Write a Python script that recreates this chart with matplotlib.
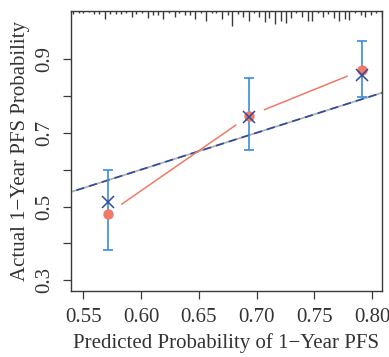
import numpy as np
import matplotlib
matplotlib.use('Agg')
import matplotlib.pyplot as plt
import matplotlib.transforms as mtransforms

# calibration groups
pred_x   = [0.5716, 0.6936, 0.7914]
obs_y    = [0.481, 0.746, 0.870]
bc_y     = [0.513, 0.742, 0.857]
ci_lo    = [0.382, 0.652, 0.798]
ci_hi    = [0.599, 0.848, 0.950]

# rug of predicted probabilities along the top (x, relative height)
rug_x = [0.541, 0.546, 0.550, 0.555, 0.559, 0.564, 0.569, 0.573, 0.578, 0.583,
         0.587, 0.592, 0.596, 0.601, 0.606, 0.610, 0.615, 0.619, 0.624, 0.629,
         0.633, 0.638, 0.642, 0.647, 0.652, 0.656, 0.661, 0.665, 0.670, 0.675,
         0.679, 0.684, 0.688, 0.693, 0.698, 0.702, 0.707, 0.711, 0.716, 0.721,
         0.725, 0.730, 0.734, 0.739, 0.744, 0.748, 0.753, 0.757, 0.762, 0.767,
         0.771, 0.776, 0.780, 0.785, 0.790, 0.794, 0.799, 0.803, 0.808]
rug_n = [3, 2, 2, 1, 3, 3, 7, 3, 3, 3, 2, 5, 3, 2, 6,
         4, 4, 7, 2, 5, 2, 4, 4, 7, 2, 9, 2, 2, 7, 4,
         14, 3, 5, 9, 2, 5, 10, 6, 12, 9, 11, 6, 2, 5, 9,
         9, 2, 5, 3, 6, 9, 7, 8, 2, 4, 5, 4, 2, 5]

x_ticks = [0.55, 0.60, 0.65, 0.70, 0.75, 0.80]
y_ticks = [0.3, 0.4, 0.5, 0.6, 0.7, 0.8, 0.9]
y_labels = ['0.3', '', '0.5', '', '0.7', '', '0.9']

RED   = '#F07A66'
NAVY  = '#2E4A9E'
LBLUE = '#3A8DDA'
AXC   = '#3a3a3a'

plt.rcParams['font.family'] = ['Liberation Serif', 'DejaVu Serif']

#------------------------------------------------------------------------------
def gapped_segments(ax, xs, ys, gap_px):
  # R type="b": lines between points, cut short around each point
  pts = ax.transData.transform(np.column_stack([xs, ys]))
  inv = ax.transData.inverted()
  segs = []
  for p0, p1 in zip(pts[:-1], pts[1:]):
    d = p1 - p0
    u = d / np.hypot(*d)
    a = inv.transform(p0 + u * gap_px)
    b = inv.transform(p1 - u * gap_px)
    segs.append((a, b))
  return segs

#------------------------------------------------------------------------------
def main():
  fig = plt.figure(figsize=(3.89, 3.57), dpi=100)
  ax = fig.add_axes([0.1825, 0.185, 0.7995, 0.784])
  ax.set_xlim(0.5394, 0.8084)
  ax.set_ylim(0.271, 1.030)

  # ideal line
  lim = np.array([0.5, 0.85])
  ax.plot(lim, lim, color='#b0b0b0', lw=1.3, zorder=2)
  ax.plot(lim, lim, color=NAVY, lw=1.2, ls=(0, (5, 3)), zorder=3)

  # observed line with gaps
  for a, b in gapped_segments(ax, pred_x, obs_y, 16.5):
    ax.plot([a[0], b[0]], [a[1], b[1]], color=RED, lw=1.1, zorder=3)

  ax.errorbar(pred_x, bc_y, yerr=[np.subtract(bc_y, ci_lo), np.subtract(ci_hi, bc_y)],
              fmt='none', ecolor=LBLUE, elinewidth=1.2, capsize=3.5, capthick=1.2, zorder=4)
  ax.plot(pred_x, obs_y, 'o', color=RED, ms=7.5, mec='none', zorder=5)
  ax.plot(pred_x, bc_y, 'x', color=NAVY, ms=8, mew=1.1, zorder=6)

  # rug
  ax_h = ax.get_window_extent().height
  trans = mtransforms.blended_transform_factory(ax.transData, ax.transAxes)
  h = np.array(rug_n) * 1.1 / ax_h
  ax.vlines(rug_x, 1 - h, 1, color=AXC, lw=1.0, transform=trans, zorder=2)

  ax.set_xticks(x_ticks)
  ax.set_xticklabels(['{:.2f}'.format(v) for v in x_ticks])
  ax.set_yticks(y_ticks)
  ax.set_yticklabels(y_labels, rotation=90, va='center')
  ax.tick_params(direction='out', length=6, width=0.9, color=AXC, labelsize=15,
                 labelcolor='#333333', pad=6)
  for s in ax.spines.values():
    s.set_color(AXC)
    s.set_linewidth(1.0)

  ax.set_xlabel('Predicted Probability of 1\u2212Year PFS', fontsize=15, color='#333333', labelpad=5)
  ax.set_ylabel('Actual 1\u2212Year PFS Probability', fontsize=15, color='#333333', labelpad=4)

  fig.savefig('out.png', dpi=100)

#------------------------------------------------------------------------------
if __name__ == '__main__':
  main()
